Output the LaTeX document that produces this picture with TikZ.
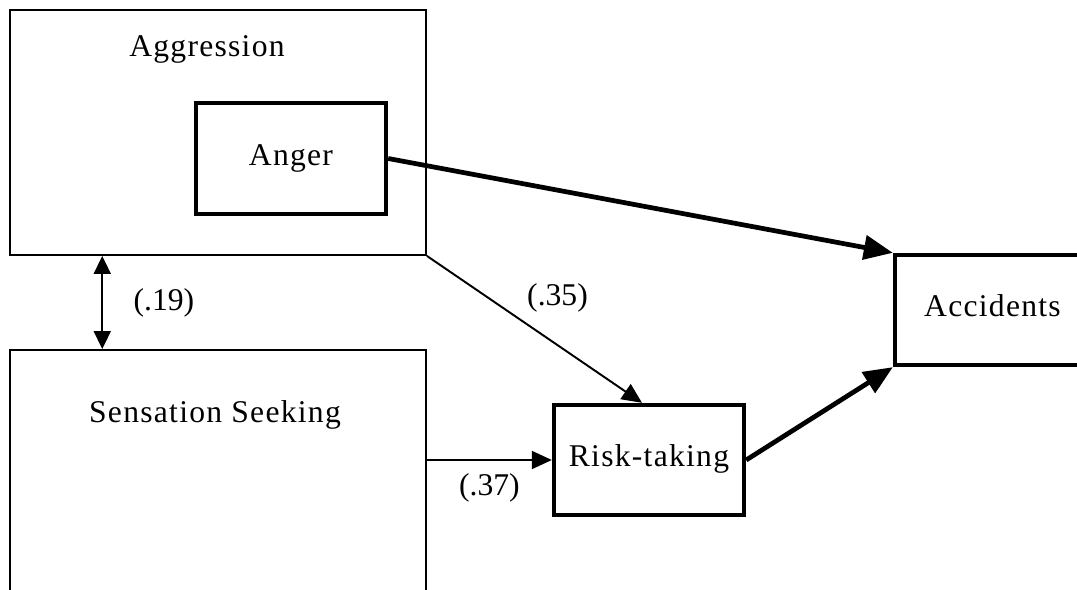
\documentclass[tikz,border=0pt]{standalone}
\usepackage{fontspec}
\setmainfont[LetterSpace=4]{Liberation Serif}
\newfontfamily\coefffont{Liberation Serif}
\usetikzlibrary{calc, positioning, arrows.meta}

\tikzset{
  thinbox/.style={draw, line width=1.1pt, inner sep=0pt},
  thickbox/.style={draw, line width=2.5pt, inner sep=0pt},
  thinarrow/.style={line width=1.1pt, -{Triangle[length=0.4cm, width=0.36cm]}},
  thickarrow/.style={line width=2.7pt, -{Triangle[length=0.58cm, width=0.48cm]}},
  coeff/.style={font=\coefffont\fontsize{18}{20}\selectfont}
}

\begin{document}
\begin{tikzpicture}[x=0.02cm, y=-0.02cm, font=\fontsize{18}{20}\selectfont]
\useasboundingbox (0,0) rectangle (1077,590);
\clip (0,0) rectangle (1077,590);
% Outer boxes on the left
\node[thinbox, minimum width=8.32cm, minimum height=4.9cm] (agg) at (218,132.5) {};
\node[thinbox, minimum width=8.32cm, minimum height=5.4cm] (sens) at (218,485) {};
\node (aggtext) at (207,49) {Aggression};
\node (senstext) at (215,415) {Sensation Seeking};
% Inner and right boxes
\node[thickbox, minimum width=3.8cm, minimum height=2.22cm] (anger) at (291,158.5) {\raisebox{-2pt}{Anger}};
\node[thickbox, minimum width=3.8cm, minimum height=2.2cm] (risk) at (649,460) {\raisebox{5pt}{Risk-taking}};
\node[thickbox, minimum width=3.9cm, minimum height=2.2cm] (acc) at (992.5,310) {\raisebox{5pt}{Accidents}};
% Correlation between the two traits
\coordinate (corrtop) at ($(agg.south west)!0.223!(agg.south east)$);
\draw[line width=1.1pt, {Triangle[length=0.36cm, width=0.34cm]}-{Triangle[length=0.36cm, width=0.34cm]}]
  (corrtop) -- node[coeff, right, xshift=14pt] {(.19)} (corrtop |- sens.north);
% Paths to risk-taking
\draw[thinarrow] (agg.south east) -- node[coeff, above right, xshift=-8pt, yshift=6pt] {(.35)} ($(risk.north)+(-7,0)$);
\draw[thinarrow] (risk.west -| sens.east) -- node[coeff, below, yshift=-4pt] {(.37)} (risk.west);
% Paths to accidents
\draw[thickarrow] (anger.east) -- (acc.north west);
\draw[thickarrow] (risk.east) -- (acc.south west);
\end{tikzpicture}
\end{document}
